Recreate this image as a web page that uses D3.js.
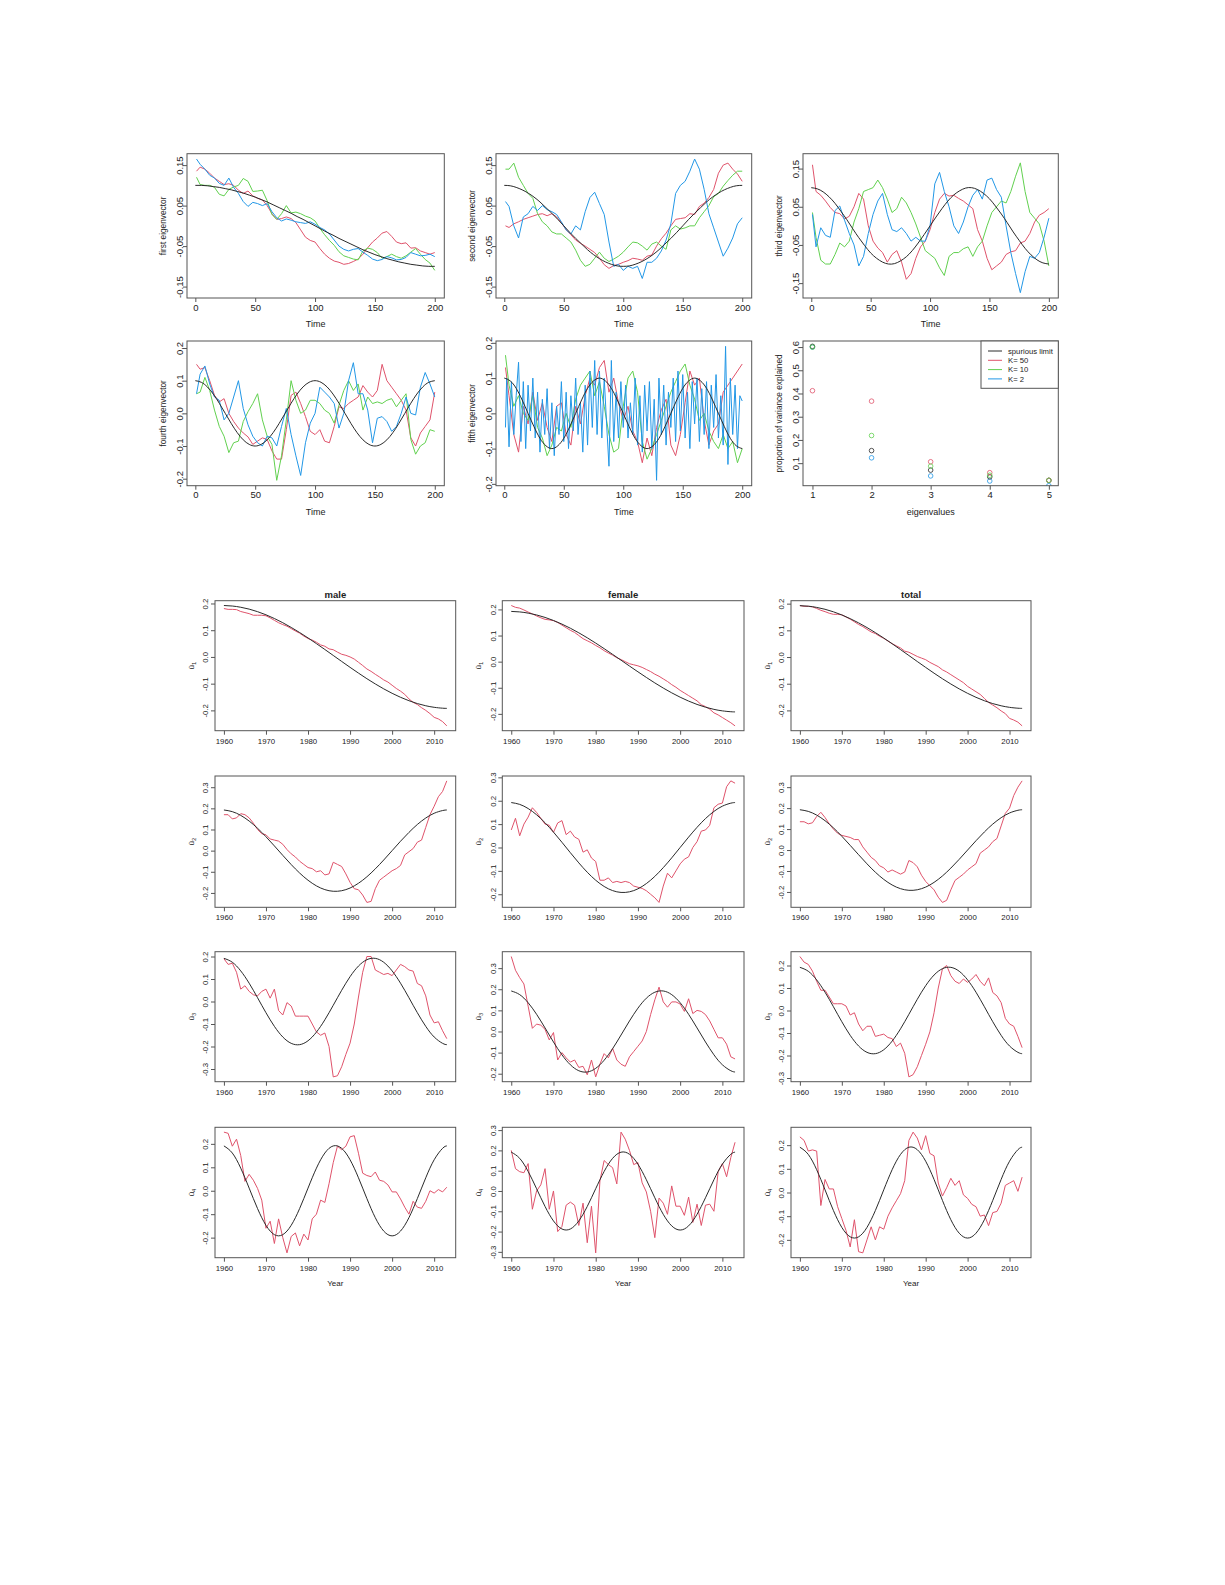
<!DOCTYPE html>
<html><head><meta charset="utf-8">
<script src="https://cdn.jsdelivr.net/npm/d3@7"></script>
<style>
body{margin:0;background:#fff}
text{font-family:"Liberation Sans",Arial,Helvetica,sans-serif}
</style>
</head><body>
<script>
// ---------------- DATA ----------------
const timeTop  = d3.range(0, 201, 4).map(t => t === 0 ? 1 : t);   // 51 steps
const timeFine = d3.range(0, 201, 2).map(t => t === 0 ? 1 : t);   // 101 steps
const timeRef  = d3.range(0, 201, 5);                              // 41 steps
const timeTicks = [0, 50, 100, 150, 200];

const ev1Blue = [0.165,0.152,0.140,0.125,0.118,0.105,0.100,0.118,0.095,0.080,
 0.060,0.048,0.058,0.055,0.050,0.055,0.035,0.020,0.012,0.017,
 0.014,0.010,0.008,0.006,0.010,0.004,-0.004,-0.010,-0.020,-0.035,
 -0.050,-0.058,-0.062,-0.058,-0.056,-0.065,-0.073,-0.082,-0.086,-0.083,
 -0.076,-0.079,-0.084,-0.083,-0.078,-0.066,-0.070,-0.074,-0.073,-0.070,-0.076];
const ev1Red = [0.135,0.145,0.140,0.130,0.118,0.110,0.102,0.104,0.100,0.088,
 0.080,0.086,0.074,0.068,0.064,0.050,0.030,0.016,0.018,0.022,
 0.018,0.008,-0.010,-0.028,-0.036,-0.040,-0.056,-0.070,-0.080,-0.087,
 -0.090,-0.095,-0.093,-0.088,-0.082,-0.070,-0.054,-0.040,-0.030,-0.018,
 -0.014,-0.026,-0.040,-0.044,-0.042,-0.055,-0.054,-0.062,-0.066,-0.070,-0.066];
const ev1Green = [0.120,0.102,0.100,0.100,0.095,0.078,0.074,0.090,0.096,0.100,
 0.117,0.110,0.085,0.086,0.088,0.062,0.028,0.016,0.030,0.050,
 0.032,0.034,0.030,0.024,0.020,0.012,-0.006,-0.022,-0.036,-0.048,
 -0.064,-0.074,-0.078,-0.082,-0.084,-0.062,-0.055,-0.058,-0.066,-0.080,
 -0.076,-0.070,-0.076,-0.080,-0.074,-0.065,-0.056,-0.070,-0.083,-0.092,-0.110];
const ev1Ref = [0.100,0.100,0.099,0.097,0.095,0.092,0.089,0.085,0.081,0.076,
 0.071,0.065,0.059,0.052,0.045,0.038,0.031,0.023,0.016,0.008,
 0.000,-0.008,-0.016,-0.023,-0.031,-0.038,-0.045,-0.052,-0.059,-0.065,
 -0.071,-0.076,-0.081,-0.085,-0.089,-0.092,-0.095,-0.097,-0.099,-0.100,-0.100];

const ev2Blue = [0.060,0.048,0.000,-0.030,0.022,0.030,0.048,0.038,0.050,0.040,
 0.035,0.028,0.010,-0.010,-0.020,0.000,-0.010,0.035,0.070,0.083,
 0.055,0.028,-0.040,-0.100,-0.095,-0.110,-0.100,-0.105,-0.100,-0.130,
 -0.090,-0.090,-0.080,-0.062,-0.035,0.005,0.080,0.100,0.110,0.135,
 0.165,0.140,0.090,0.030,-0.005,-0.040,-0.075,-0.055,-0.030,0.005,0.020];
const ev2Red = [0.000,-0.004,0.005,0.010,0.016,0.020,0.024,0.028,0.030,0.025,
 0.030,0.022,0.008,-0.010,-0.022,-0.035,-0.043,-0.050,-0.058,-0.066,
 -0.080,-0.096,-0.105,-0.098,-0.095,-0.090,-0.086,-0.080,-0.082,-0.085,
 -0.075,-0.072,-0.050,-0.032,-0.018,0.000,0.016,0.018,0.020,0.030,
 0.028,0.048,0.056,0.070,0.090,0.130,0.150,0.155,0.140,0.128,0.110];
const ev2Green = [0.140,0.140,0.155,0.120,0.100,0.080,0.068,0.030,0.010,0.000,
 -0.015,-0.020,-0.020,-0.030,-0.040,-0.060,-0.085,-0.100,-0.095,-0.080,
 -0.065,-0.080,-0.088,-0.082,-0.075,-0.065,-0.052,-0.040,-0.042,-0.050,
 -0.060,-0.045,-0.040,-0.050,-0.058,-0.010,0.000,-0.008,-0.005,0.000,
 0.000,0.020,0.035,0.050,0.072,0.080,0.098,0.112,0.125,0.135,0.135];
const ev2Ref = [0.100,0.099,0.095,0.089,0.081,0.071,0.059,0.045,0.031,0.016,
 0.000,-0.016,-0.031,-0.045,-0.059,-0.071,-0.081,-0.089,-0.095,-0.099,
 -0.100,-0.099,-0.095,-0.089,-0.081,-0.071,-0.059,-0.045,-0.031,-0.016,
 0.000,0.016,0.031,0.045,0.059,0.071,0.081,0.089,0.095,0.099,0.100];

const ev3Red = [0.160,0.090,0.080,0.065,0.048,0.035,0.032,0.018,0.025,0.050,
 0.085,0.070,0.000,-0.040,-0.058,-0.070,-0.095,-0.075,-0.065,-0.095,
 -0.140,-0.125,-0.085,-0.055,-0.040,-0.010,0.035,0.070,0.085,0.078,
 0.080,0.072,0.065,0.055,0.045,-0.010,-0.040,-0.085,-0.115,-0.105,
 -0.095,-0.075,-0.068,-0.065,-0.045,-0.040,-0.020,0.010,0.028,0.035,0.045];
const ev3Blue = [0.030,-0.055,-0.005,-0.025,-0.030,0.040,0.052,0.015,-0.020,-0.050,
 -0.105,-0.080,-0.020,0.030,0.065,0.085,0.030,-0.010,-0.015,-0.005,
 -0.020,-0.040,-0.030,-0.040,-0.040,0.000,0.110,0.140,0.090,0.050,
 0.000,-0.020,0.010,0.050,0.080,0.095,0.070,0.120,0.125,0.095,
 0.075,0.000,-0.070,-0.125,-0.175,-0.120,-0.080,-0.085,-0.070,-0.030,0.020];
const ev3Green = [0.035,-0.030,-0.090,-0.100,-0.100,-0.075,-0.045,-0.055,-0.040,0.010,
 0.045,0.090,0.095,0.100,0.120,0.100,0.070,0.035,0.045,0.075,
 0.060,0.035,0.005,-0.030,-0.065,-0.075,-0.085,-0.110,-0.130,-0.080,
 -0.070,-0.070,-0.060,-0.055,-0.080,-0.055,-0.040,0.000,0.035,0.050,
 0.065,0.060,0.090,0.130,0.165,0.090,0.035,0.020,0.005,-0.040,-0.105];
const ev3Ref = [0.100,0.097,0.089,0.076,0.059,0.038,0.016,-0.008,-0.031,-0.052,
 -0.071,-0.085,-0.095,-0.100,-0.099,-0.092,-0.081,-0.065,-0.045,-0.023,
 0.000,0.023,0.045,0.065,0.081,0.092,0.099,0.100,0.095,0.085,
 0.071,0.052,0.031,0.008,-0.016,-0.038,-0.059,-0.076,-0.089,-0.097,-0.100];

const ev4Red = [0.150,0.135,0.140,0.100,0.055,0.035,0.045,0.000,-0.025,-0.045,
 -0.060,-0.072,-0.095,-0.085,-0.075,-0.080,-0.115,-0.140,-0.140,-0.050,
 0.055,0.065,0.030,-0.010,-0.055,-0.065,-0.050,-0.085,-0.090,-0.040,
 0.020,0.015,0.030,0.040,0.050,0.085,0.065,0.050,0.070,0.150,
 0.100,0.080,0.060,0.040,0.010,-0.075,-0.100,-0.060,-0.040,-0.020,0.065];
const ev4Blue = [0.060,0.120,0.145,0.090,0.050,0.040,-0.020,0.000,0.050,0.100,
 0.015,-0.035,-0.070,-0.090,-0.100,-0.070,-0.075,-0.100,-0.040,0.015,
 -0.065,-0.130,-0.190,-0.090,-0.030,0.000,0.080,0.065,0.050,0.030,
 -0.045,0.000,0.100,0.155,0.060,0.060,0.010,-0.090,-0.015,-0.010,
 -0.025,-0.055,-0.040,0.000,0.050,0.000,-0.005,0.080,0.125,0.090,0.050];
const ev4Green = [0.060,0.065,0.110,0.070,0.010,-0.040,-0.070,-0.120,-0.090,-0.085,
 -0.025,0.005,0.030,0.060,-0.020,-0.070,-0.095,-0.205,-0.130,-0.020,
 0.100,0.040,0.000,0.010,0.040,0.040,0.030,0.010,0.000,-0.030,
 0.025,0.070,0.100,0.070,0.090,0.010,0.050,0.030,0.035,0.030,
 0.040,0.045,0.020,0.040,0.060,-0.080,-0.125,-0.100,-0.090,-0.050,-0.055];
const ev4Ref = [0.100,0.095,0.081,0.059,0.031,0.000,-0.031,-0.059,-0.081,-0.095,
 -0.100,-0.095,-0.081,-0.059,-0.031,0.000,0.031,0.059,0.081,0.095,
 0.100,0.095,0.081,0.059,0.031,0.000,-0.031,-0.059,-0.081,-0.095,
 -0.100,-0.095,-0.081,-0.059,-0.031,0.000,0.031,0.059,0.081,0.095,0.100];

const ev5Blue = [-0.040,0.100,-0.095,0.090,-0.060,0.050,0.145,-0.080,0.090,-0.100,
 0.080,-0.050,0.100,-0.070,0.060,-0.110,0.040,-0.060,0.070,-0.100,
 0.030,-0.120,0.020,-0.060,0.090,-0.080,0.060,-0.100,0.050,-0.050,
 0.100,-0.060,0.030,-0.110,0.080,-0.090,0.120,-0.040,0.150,-0.060,
 0.120,-0.070,0.100,-0.030,-0.150,0.150,-0.080,0.060,-0.070,0.090,
 -0.040,0.080,-0.070,0.030,-0.060,0.100,-0.090,0.050,-0.110,0.080,
 -0.050,0.090,-0.100,0.040,-0.190,0.100,-0.060,0.080,-0.090,0.060,
 -0.040,0.100,-0.080,0.120,-0.050,0.110,-0.070,0.060,-0.100,0.090,
 -0.030,0.100,-0.080,0.070,-0.060,0.090,-0.100,0.080,-0.040,0.110,
 -0.070,0.050,-0.090,0.190,-0.145,0.100,-0.060,0.080,-0.100,0.050,0.035];
const ev5Red = [0.130,0.050,-0.060,-0.110,0.020,-0.030,0.060,-0.020,0.030,-0.040,
 -0.080,0.020,0.030,-0.060,-0.090,0.020,-0.030,0.050,0.100,0.080,
 0.130,0.150,0.060,0.100,0.030,-0.020,0.020,-0.050,-0.080,-0.140,
 -0.070,-0.120,-0.040,0.010,0.040,-0.090,-0.120,-0.060,0.030,0.120,
 0.080,0.100,-0.020,-0.090,-0.050,-0.030,0.060,0.080,0.100,0.120,0.140];
const ev5Green = [0.165,0.080,0.020,0.050,0.000,-0.020,0.050,-0.040,-0.070,-0.120,
 -0.090,-0.040,-0.050,0.000,-0.040,0.040,0.080,0.100,0.120,0.050,
 0.090,0.020,-0.060,-0.110,-0.100,0.020,0.100,0.120,0.060,-0.080,
 -0.130,-0.100,-0.060,-0.020,0.020,0.060,0.090,0.120,0.140,0.080,
 0.040,-0.020,0.000,-0.050,-0.080,-0.100,-0.060,-0.100,-0.080,-0.140,-0.100];
const ev5Ref = [0.100,0.092,0.071,0.038,0.000,-0.038,-0.071,-0.092,-0.100,-0.092,
 -0.071,-0.038,0.000,0.038,0.071,0.092,0.100,0.092,0.071,0.038,
 0.000,-0.038,-0.071,-0.092,-0.100,-0.092,-0.071,-0.038,0.000,0.038,
 0.071,0.092,0.100,0.092,0.071,0.038,0.000,-0.038,-0.071,-0.092,-0.100];

// proportion of variance explained
const eigIndex = [1, 2, 3, 4, 5];
const propSpurious = [0.603, 0.154, 0.070, 0.041, 0.026];
const propK50 = [0.412, 0.367, 0.106, 0.059, 0.026];
const propK10 = [0.600, 0.219, 0.087, 0.048, 0.026];
const propK2  = [0.600, 0.123, 0.045, 0.023, 0.003];
const legendLabels = ["spurious limit", "K= 50", "K= 10", "K= 2"];

// bottom block
const years = d3.range(1960, 2014);
const refYears = d3.range(1960, 2013, 2).concat([2013]);
const yearTicks = [1960, 1970, 1980, 1990, 2000, 2010];
const groups = ["male", "female", "total"];

const refU1 = [0.1924,0.1905,0.1859,0.1789,0.1694,0.1577,0.1438,0.1280,0.1104,0.0914,
 0.0711,0.0498,0.0279,0.0056,-0.0168,-0.0389,-0.0605,-0.0814,-0.1011,-0.1194,
 -0.1361,-0.1510,-0.1638,-0.1745,-0.1827,-0.1885,-0.1918,-0.1924];
const refU2 = [0.1922,0.1844,0.1667,0.1400,0.1058,0.0658,0.0223,-0.0223,-0.0658,-0.1058,
 -0.1400,-0.1667,-0.1844,-0.1922,-0.1896,-0.1768,-0.1543,-0.1237,-0.0862,-0.0444,
 0.0000,0.0444,0.0862,0.1237,0.1543,0.1768,0.1896,0.1922];
const refU3 = [0.1918,0.1745,0.1361,0.0814,0.0168,-0.0498,-0.1104,-0.1577,-0.1859,-0.1918,
 -0.1745,-0.1361,-0.0814,-0.0168,0.0498,0.1104,0.1577,0.1859,0.1918,0.1745,
 0.1361,0.0814,0.0168,-0.0498,-0.1104,-0.1577,-0.1859,-0.1918];
const refU4 = [0.1912,0.1608,0.0963,0.0112,-0.0762,-0.1475,-0.1873,-0.1873,-0.1475,-0.0762,
 0.0112,0.0963,0.1608,0.1912,0.1809,0.1321,0.0552,-0.0334,-0.1150,-0.1720,
 -0.1925,-0.1720,-0.1150,-0.0334,0.0552,0.1321,0.1809,0.1912];

const maleU1 = [0.181,0.178,0.178,0.177,0.170,0.166,0.162,0.156,0.156,0.156,
 0.154,0.146,0.137,0.128,0.121,0.115,0.106,0.097,0.089,0.078,
 0.069,0.063,0.055,0.045,0.040,0.030,0.027,0.018,0.010,0.006,
 0.000,-0.008,-0.020,-0.032,-0.045,-0.054,-0.065,-0.075,-0.086,-0.094,
 -0.106,-0.118,-0.128,-0.140,-0.157,-0.170,-0.178,-0.190,-0.200,-0.212,
 -0.226,-0.232,-0.242,-0.258];
const femaleU1 = [0.215,0.208,0.205,0.198,0.190,0.183,0.175,0.168,0.162,0.160,
 0.157,0.150,0.140,0.130,0.120,0.112,0.100,0.088,0.080,0.072,
 0.062,0.053,0.042,0.033,0.025,0.015,0.008,0.000,-0.008,-0.012,
 -0.016,-0.022,-0.030,-0.038,-0.048,-0.056,-0.066,-0.076,-0.088,-0.098,
 -0.110,-0.120,-0.130,-0.140,-0.150,-0.165,-0.172,-0.182,-0.196,-0.204,
 -0.214,-0.224,-0.234,-0.246];
const totalU1 = [0.193,0.190,0.190,0.188,0.182,0.175,0.170,0.164,0.160,0.160,
 0.158,0.150,0.142,0.132,0.122,0.114,0.104,0.094,0.088,0.078,
 0.070,0.060,0.050,0.042,0.034,0.022,0.018,0.010,0.002,-0.004,
 -0.010,-0.020,-0.028,-0.036,-0.048,-0.056,-0.066,-0.076,-0.086,-0.096,
 -0.110,-0.120,-0.130,-0.140,-0.155,-0.170,-0.180,-0.190,-0.202,-0.212,
 -0.230,-0.236,-0.244,-0.258];

const maleU2 = [0.170,0.170,0.150,0.155,0.175,0.170,0.155,0.130,0.100,0.080,
 0.075,0.055,0.050,0.045,0.030,0.005,-0.015,-0.030,-0.050,-0.065,
 -0.080,-0.085,-0.100,-0.095,-0.115,-0.110,-0.055,-0.065,-0.075,-0.110,
 -0.150,-0.180,-0.185,-0.210,-0.245,-0.240,-0.180,-0.140,-0.125,-0.110,
 -0.095,-0.085,-0.070,-0.020,-0.005,0.010,0.040,0.050,0.110,0.170,
 0.210,0.255,0.280,0.330];
const femaleU2 = [0.075,0.125,0.050,0.100,0.130,0.170,0.150,0.125,0.100,0.095,
 0.065,0.105,0.115,0.055,0.070,0.045,0.035,-0.020,-0.010,-0.045,
 -0.060,-0.140,-0.140,-0.130,-0.150,-0.145,-0.150,-0.145,-0.150,-0.165,
 -0.170,-0.175,-0.185,-0.200,-0.215,-0.235,-0.165,-0.110,-0.130,-0.100,
 -0.070,-0.050,-0.040,0.000,0.025,0.070,0.075,0.095,0.170,0.185,
 0.190,0.260,0.285,0.275];
const totalU2 = [0.135,0.135,0.125,0.130,0.160,0.180,0.155,0.125,0.100,0.080,
 0.070,0.065,0.060,0.050,0.050,0.015,-0.010,-0.035,-0.050,-0.075,
 -0.085,-0.105,-0.095,-0.105,-0.115,-0.105,-0.050,-0.060,-0.080,-0.120,
 -0.150,-0.170,-0.190,-0.225,-0.250,-0.240,-0.190,-0.145,-0.130,-0.115,
 -0.095,-0.080,-0.065,-0.015,0.000,0.015,0.040,0.055,0.115,0.175,
 0.200,0.260,0.300,0.330];

const maleU3 = [0.190,0.165,0.170,0.130,0.055,0.070,0.045,0.030,0.025,0.045,
 0.055,0.015,0.055,-0.040,-0.060,-0.005,-0.020,-0.065,-0.065,-0.065,
 -0.065,-0.100,-0.135,-0.150,-0.140,-0.200,-0.335,-0.330,-0.290,-0.235,
 -0.185,-0.100,0.020,0.130,0.200,0.200,0.140,0.130,0.120,0.125,
 0.115,0.140,0.165,0.155,0.140,0.135,0.080,0.070,0.025,-0.060,
 -0.095,-0.090,-0.130,-0.165];
const femaleU3 = [0.355,0.290,0.255,0.225,0.120,0.015,0.035,0.030,0.010,-0.040,
 -0.005,-0.135,-0.100,-0.125,-0.145,-0.135,-0.170,-0.165,-0.205,-0.135,
 -0.215,-0.155,-0.105,-0.125,-0.080,-0.135,-0.155,-0.165,-0.120,-0.095,
 -0.070,-0.045,0.000,0.080,0.150,0.210,0.140,0.115,0.140,0.140,
 0.130,0.095,0.155,0.085,0.100,0.095,0.080,0.050,0.010,-0.030,
 -0.030,-0.060,-0.120,-0.130];
const totalU3 = [0.240,0.215,0.205,0.175,0.130,0.090,0.090,0.060,0.030,0.030,
 0.030,0.020,-0.020,-0.010,-0.060,-0.090,-0.070,-0.070,-0.115,-0.110,
 -0.105,-0.120,-0.125,-0.160,-0.145,-0.190,-0.295,-0.285,-0.250,-0.200,
 -0.150,-0.095,-0.010,0.100,0.185,0.200,0.155,0.130,0.120,0.140,
 0.125,0.140,0.160,0.130,0.110,0.145,0.080,0.065,0.035,-0.035,
 -0.060,-0.070,-0.115,-0.165];

const maleU4 = [0.250,0.245,0.190,0.220,0.150,0.040,0.070,0.045,0.010,-0.040,
 -0.160,-0.130,-0.225,-0.120,-0.200,-0.265,-0.195,-0.180,-0.235,-0.185,
 -0.210,-0.120,-0.100,-0.040,-0.050,0.030,0.120,0.190,0.175,0.190,
 0.230,0.235,0.160,0.075,0.065,0.060,0.080,0.045,0.040,0.025,
 -0.005,-0.005,-0.035,-0.070,-0.100,-0.045,-0.070,-0.075,-0.045,0.000,
 -0.010,0.005,-0.005,0.015];
const femaleU4 = [0.200,0.110,0.095,0.090,0.135,-0.090,0.000,0.030,0.110,-0.090,
 0.000,-0.200,-0.175,-0.070,-0.055,-0.070,-0.170,-0.060,-0.255,-0.075,
 -0.305,0.050,0.150,0.130,0.115,0.035,0.290,0.255,0.200,0.130,
 0.140,0.040,-0.005,-0.100,-0.230,-0.035,-0.060,-0.115,0.025,-0.075,
 -0.075,-0.120,-0.030,-0.155,-0.065,-0.170,-0.070,-0.065,-0.100,0.095,
 0.135,0.070,0.165,0.240];
const totalU4 = [0.235,0.220,0.175,0.180,0.175,-0.055,0.055,0.015,0.015,-0.060,
 -0.110,-0.160,-0.230,-0.115,-0.250,-0.255,-0.200,-0.145,-0.200,-0.145,
 -0.155,-0.100,-0.065,-0.035,-0.005,0.050,0.220,0.255,0.230,0.180,
 0.240,0.165,0.155,0.040,-0.015,0.020,0.060,0.030,0.050,-0.010,
 -0.025,-0.050,-0.060,-0.100,-0.095,-0.140,-0.085,-0.080,-0.045,0.030,
 0.040,0.050,0.005,0.065];

// ---------------- DRAWING ----------------
const COL = {ref: "#2a2a2a", red: "#DF536B", green: "#61D04F", blue: "#2297E6"};
const FONT = '"Liberation Sans", Arial, Helvetica, sans-serif';
const svg = d3.select("body").append("svg").attr("width", 1225).attr("height", 1585);
const defs = svg.append("defs");
let clipN = 0;
const rfmt = f => d => d3.format(f)(d).replace("\u2212", "-");
function pad4(ext) { const r = ext[1] - ext[0]; return [ext[0] - 0.04 * r, ext[1] + 0.04 * r]; }

function panel(o) {
  const [bx0, bx1, by0, by1] = o.box;
  const x = d3.scaleLinear().domain(o.xd).range([bx0, bx1]);
  const y = d3.scaleLinear().domain(o.yd).range([by1, by0]);
  const id = "clip" + (clipN++);
  defs.append("clipPath").attr("id", id).append("rect")
    .attr("x", bx0).attr("y", by0).attr("width", bx1 - bx0).attr("height", by1 - by0);
  const g = svg.append("g");
  const plot = g.append("g").attr("clip-path", `url(#${id})`);

  const xa = g.append("g").attr("transform", `translate(0,${by1})`)
    .call(d3.axisBottom(x).tickValues(o.xt).tickFormat(o.xf).tickSize(o.tick).tickPadding(o.xpad));
  xa.select(".domain").remove();
  xa.attr("font-size", o.fs).attr("font-family", FONT).attr("color", "#222");
  xa.selectAll("line").attr("stroke", "#555");

  const ya = g.append("g").attr("transform", `translate(${bx0},0)`)
    .call(d3.axisLeft(y).tickValues(o.yt).tickFormat(o.yf).tickSize(o.tick));
  ya.select(".domain").remove();
  ya.attr("font-size", o.fs).attr("font-family", FONT).attr("color", "#222");
  ya.selectAll("line").attr("stroke", "#555");
  ya.selectAll("text").attr("transform", "rotate(-90)").attr("x", 0).attr("y", -o.ypad)
    .attr("dy", "0.35em").attr("text-anchor", "middle");

  g.append("rect").attr("x", bx0).attr("y", by0).attr("width", bx1 - bx0).attr("height", by1 - by0)
    .attr("fill", "none").attr("stroke", "#555").attr("stroke-width", 1);

  if (o.xlab) g.append("text").attr("x", (bx0 + bx1) / 2).attr("y", o.xlabY).attr("dy", "0.35em")
    .attr("text-anchor", "middle").attr("font-size", o.lfs).attr("fill", "#222").text(o.xlab);
  return {x, y, g, plot};
}

function addLine(p, xs, ys, color, curve) {
  p.plot.append("path").datum(xs.map((t, i) => [t, ys[i]]))
    .attr("fill", "none").attr("stroke", color).attr("stroke-width", 1)
    .attr("stroke-linejoin", "round")
    .attr("d", d3.line().x(d => p.x(d[0])).y(d => p.y(d[1])).curve(curve || d3.curveLinear));
}

function rotLabel(g, x, y, fs, txt, sub) {
  const t = g.append("text").attr("transform", `translate(${x},${y}) rotate(-90)`)
    .attr("text-anchor", "middle").attr("dy", "0.35em").attr("font-size", fs).attr("fill", "#222");
  t.append("tspan").text(txt);
  if (sub) t.append("tspan").attr("font-size", fs * 0.72).attr("dy", "0.35em").text(sub);
  return t;
}

// ---- top block ----
const topCols = [[187, 444.3], [496, 751.7], [803, 1058.3]];
const topRows = [[153.7, 298], [341, 485.7]];
const topPanels = [
  {ylab: "first eigenvector",  red: ev1Red, green: ev1Green, blue: ev1Blue, ref: ev1Ref, yt: [-0.15, -0.05, 0.05, 0.15], yf: ".2f"},
  {ylab: "second eigenvector", red: ev2Red, green: ev2Green, blue: ev2Blue, ref: ev2Ref, yt: [-0.15, -0.05, 0.05, 0.15], yf: ".2f"},
  {ylab: "third eigenvector",  red: ev3Red, green: ev3Green, blue: ev3Blue, ref: ev3Ref, yt: [-0.15, -0.05, 0.05, 0.15], yf: ".2f"},
  {ylab: "fourth eigenvector", red: ev4Red, green: ev4Green, blue: ev4Blue, ref: ev4Ref, yt: [-0.2, -0.1, 0, 0.1, 0.2], yf: ".1f"},
  {ylab: "fifth eigenvector",  red: ev5Red, green: ev5Green, blue: ev5Blue, ref: ev5Ref, yt: [-0.2, -0.1, 0, 0.1, 0.2], yf: ".1f", fineBlue: true}
];
const xdTop = pad4(d3.extent(timeTop));

topPanels.forEach((tp, i) => {
  const c = topCols[i % 3], r = topRows[Math.floor(i / 3)];
  const m = d3.max([tp.red, tp.green, tp.blue, tp.ref].flat(), v => Math.abs(v)) * 1.08;
  const p = panel({box: [c[0], c[1], r[0], r[1]], xd: xdTop, yd: [-m, m],
    xt: timeTicks, xf: rfmt("d"), yt: tp.yt, yf: rfmt(tp.yf),
    tick: 4, xpad: 2, ypad: 7, fs: 9.5, lfs: 9, xlab: "Time", xlabY: r[1] + 25.7});
  addLine(p, timeTop, tp.red, COL.red);
  addLine(p, timeTop, tp.green, COL.green);
  addLine(p, tp.fineBlue ? timeFine : timeTop, tp.blue, COL.blue);
  addLine(p, timeRef, tp.ref, COL.ref, d3.curveNatural);
  rotLabel(p.g, c[0] - 24, (r[0] + r[1]) / 2, 8.3, tp.ylab);
});

// panel 6 : proportion of variance
{
  const c = topCols[2], r = topRows[1];
  const yd = pad4(d3.extent([propSpurious, propK50, propK10].flat()));
  const p = panel({box: [c[0], c[1], r[0], r[1]], xd: pad4(d3.extent(eigIndex)), yd,
    xt: eigIndex, xf: rfmt("d"), yt: [0.1, 0.2, 0.3, 0.4, 0.5, 0.6], yf: rfmt(".1f"),
    tick: 4, xpad: 2, ypad: 7, fs: 9.5, lfs: 9, xlab: "eigenvalues", xlabY: r[1] + 25.7});
  const sets = [[propK2, COL.blue], [propSpurious, COL.ref], [propK50, COL.red], [propK10, COL.green]];
  sets.forEach(([vals, col]) => {
    p.plot.selectAll(null).data(vals).enter().append("circle")
      .attr("cx", (d, i) => p.x(eigIndex[i])).attr("cy", d => p.y(d)).attr("r", 2.3)
      .attr("fill", "none").attr("stroke", col).attr("stroke-width", 0.8);
  });
  rotLabel(p.g, c[0] - 24, (r[0] + r[1]) / 2, 8.3, "proportion of variance explained");
  // legend
  const lg = p.g.append("g");
  lg.append("rect").attr("x", 981).attr("y", r[0]).attr("width", c[1] - 981).attr("height", 47.3)
    .attr("fill", "#fff").attr("stroke", "#555").attr("stroke-width", 1);
  const lcols = [COL.ref, COL.red, COL.green, COL.blue];
  legendLabels.forEach((lab, i) => {
    const yy = r[0] + 10 + i * 9.3;
    lg.append("line").attr("x1", 988).attr("x2", 1002).attr("y1", yy).attr("y2", yy)
      .attr("stroke", lcols[i]).attr("stroke-width", 1);
    lg.append("text").attr("x", 1008).attr("y", yy).attr("dy", "0.35em").attr("font-size", 7.7)
      .attr("fill", "#222").text(lab);
  });
}

// ---- bottom block ----
const botCols = [[215, 455.7], [502.3, 744], [791, 1031]];
const botRows = [[600.7, 730.7], [776, 907.3], [951.7, 1081.7], [1127.3, 1257.7]];
const botRed = [
  [maleU1, femaleU1, totalU1],
  [maleU2, femaleU2, totalU2],
  [maleU3, femaleU3, totalU3],
  [maleU4, femaleU4, totalU4]
];
const botRef = [refU1, refU2, refU3, refU4];
const xdBot = pad4(d3.extent(years));

botRows.forEach((r, ri) => {
  botCols.forEach((c, ci) => {
    const red = botRed[ri][ci], ref = botRef[ri];
    const yd = pad4(d3.extent(red.concat(ref)));
    const yt = d3.range(Math.ceil(yd[0] * 10 - 1e-9), Math.floor(yd[1] * 10 + 1e-9) + 1).map(k => k / 10);
    const p = panel({box: [c[0], c[1], r[0], r[1]], xd: xdBot, yd,
      xt: yearTicks, xf: rfmt("d"), yt, yf: rfmt(".1f"),
      tick: 4, xpad: 3.5, ypad: 9.5, fs: 7.8, lfs: 8,
      xlab: ri === 3 ? "Year" : null, xlabY: r[1] + 25});
    addLine(p, years, red, COL.red);
    addLine(p, refYears, ref, COL.ref, d3.curveNatural);
    rotLabel(p.g, c[0] - 24, (r[0] + r[1]) / 2, 8, "\u00FB", String(ri + 1));
    if (ri === 0) {
      p.g.append("text").attr("x", (c[0] + c[1]) / 2).attr("y", r[0] - 6).attr("dy", "0.35em")
        .attr("text-anchor", "middle").attr("font-size", 9.5).attr("font-weight", "bold")
        .attr("fill", "#222").text(groups[ci]);
    }
  });
});
</script>
</body></html>
